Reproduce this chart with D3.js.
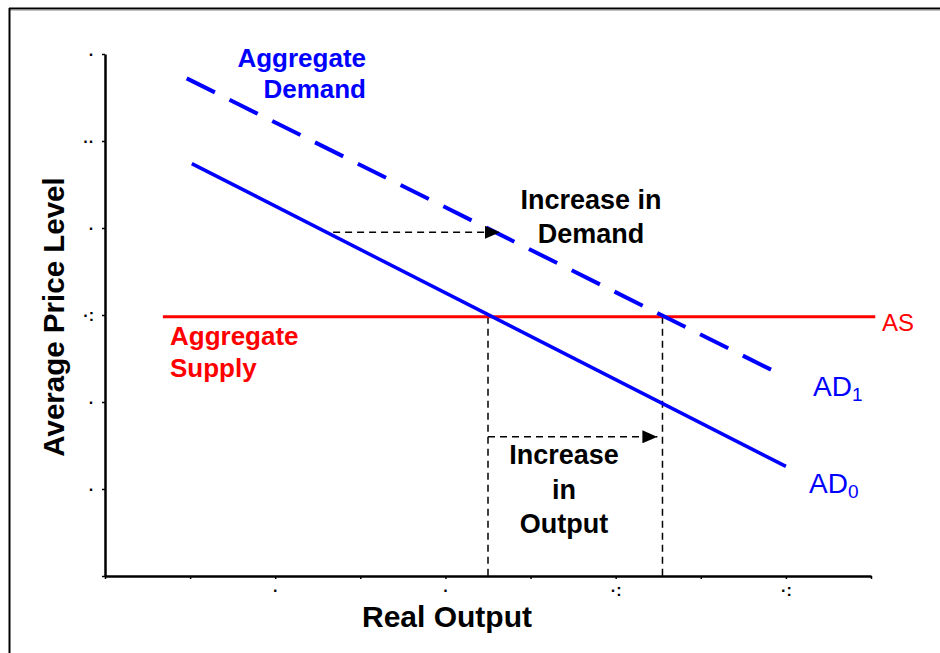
<!DOCTYPE html>
<html>
<head>
<meta charset="utf-8">
<script src="https://cdnjs.cloudflare.com/ajax/libs/d3/7.8.5/d3.min.js"></script>
<style>
  html, body { margin: 0; padding: 0; background: #fff; }
  svg { display: block; }
  text { font-family: "Liberation Sans", Arial, sans-serif; }
</style>
</head>
<body>
<script>
// ---- data ----
const xTickValues = [0, 1, 2, 3, 4, 5, 6, 7, 8, 9];
const xTickLabels = ["", "", "·", "", "·", "", "·:", "", "·:", ""];
const yTickValues = [0, 1, 2, 3, 4, 5, 6];
const yTickLabels = ["", "·", "·", "·:", "·", "··", "·"];

const ad0Points = [[1.02, 4.74], [8.0, 1.26]];
const ad1Points = [[0.96, 5.72], [7.87, 2.35]];
const asLevel = 2.98;
const asRange = [0.68, 9.05];
const equilibriumOutputs = [4.5, 6.55];
const demandShiftArrow = { y: 3.95, from: 2.68, to: 4.64 };
const outputArrow = { y: 1.6, from: 4.5, to: 6.49 };

const xAxisTitle = "Real Output";
const yAxisTitle = "Average Price Level";

// ---- chart ----
const W = 940, H = 653;
const svg = d3.select("body").append("svg").attr("width", W).attr("height", H);
svg.append("rect").attr("width", W).attr("height", H).attr("fill", "#fff");

// frame (top + left edges)
svg.append("line").attr("x1", 9).attr("x2", W).attr("y1", 8.5).attr("y2", 8.5)
  .attr("stroke", "#000").attr("stroke-width", 2);
svg.append("line").attr("x1", 9).attr("x2", W).attr("y1", 10).attr("y2", 10)
  .attr("stroke", "#888").attr("stroke-width", 1);
svg.append("line").attr("x1", 9.5).attr("x2", 9.5).attr("y1", 8).attr("y2", H)
  .attr("stroke", "#000").attr("stroke-width", 2);

const x = d3.scaleLinear().domain([0, 9]).range([105, 871]);
const y = d3.scaleLinear().domain([0, 6]).range([576, 54]);

const defs = svg.append("defs");
defs.append("marker").attr("id", "arrow").attr("viewBox", "0 0 15 13")
  .attr("refX", 15).attr("refY", 6.5).attr("markerWidth", 15).attr("markerHeight", 13)
  .attr("markerUnits", "userSpaceOnUse").attr("orient", "auto")
  .append("path").attr("d", "M0,0 L15,6.5 L0,13 Z").attr("fill", "#000");

// axes
const xAxis = d3.axisBottom(x).tickValues(xTickValues)
  .tickFormat((d, i) => xTickLabels[i]).tickSizeInner(3).tickSizeOuter(0).tickPadding(6);
const yAxis = d3.axisLeft(y).tickValues(yTickValues)
  .tickFormat((d, i) => yTickLabels[i]).tickSizeInner(3).tickSizeOuter(0).tickPadding(8);

const gx = svg.append("g").attr("transform", `translate(0,${y(0)})`).call(xAxis);
const gy = svg.append("g").attr("transform", `translate(${x(0)},0)`).call(yAxis);
[gx, gy].forEach(g => {
  g.select(".domain").attr("stroke", "#000").attr("stroke-width", 2.5);
  g.selectAll(".tick line").attr("stroke", "#000").attr("stroke-width", 1.5);
  g.selectAll(".tick text").attr("fill", "#000").attr("font-size", 16)
    .attr("font-weight", "bold").attr("font-family", "Liberation Sans, Arial, sans-serif");
});

// dashed guides
const dash = "7,5";
equilibriumOutputs.forEach(v => {
  svg.append("line").attr("x1", x(v)).attr("x2", x(v)).attr("y1", y(asLevel)).attr("y2", y(0))
    .attr("stroke", "#000").attr("stroke-width", 1.5).attr("stroke-dasharray", dash);
});

// AS line
svg.append("line").attr("x1", x(asRange[0])).attr("x2", x(asRange[1]))
  .attr("y1", y(asLevel)).attr("y2", y(asLevel))
  .attr("stroke", "#ff0000").attr("stroke-width", 3);

const line = d3.line().x(d => x(d[0])).y(d => y(d[1]));
svg.append("path").datum(ad0Points).attr("d", line).attr("fill", "none")
  .attr("stroke", "#0000ff").attr("stroke-width", 3.5);
svg.append("path").datum(ad1Points).attr("d", line).attr("fill", "none")
  .attr("stroke", "#0000ff").attr("stroke-width", 4).attr("stroke-dasharray", "31.5,16.3");

// arrows
[demandShiftArrow, outputArrow].forEach(a => {
  svg.append("line").attr("x1", x(a.from)).attr("x2", x(a.to)).attr("y1", y(a.y)).attr("y2", y(a.y))
    .attr("stroke", "#000").attr("stroke-width", 1.5).attr("stroke-dasharray", dash)
    .attr("marker-end", "url(#arrow)");
});

// text helpers
function multi(lines, xPos, baselines, anchor, color, size, weight) {
  const t = svg.append("text").attr("text-anchor", anchor).attr("fill", color)
    .attr("font-size", size).attr("font-weight", weight);
  lines.forEach((s, i) => t.append("tspan").attr("x", xPos).attr("y", baselines[i]).text(s));
}

multi(["Aggregate", "Demand"], 366, [67, 98], "end", "#0000ff", 26, "bold");
multi(["Increase in", "Demand"], 591, [209, 243], "middle", "#000", 27, "bold");
multi(["Aggregate", "Supply"], 170, [345, 377], "start", "#ff0000", 26, "bold");
multi(["Increase", "in", "Output"], 564, [464, 499, 533], "middle", "#000", 27, "bold");

function adLabel(main, sub, xPos, base) {
  const t = svg.append("text").attr("x", xPos).attr("y", base).attr("fill", "#0000ff")
    .attr("font-size", 28);
  t.append("tspan").text(main);
  t.append("tspan").attr("font-size", 19).attr("dy", 5).text(sub);
}
adLabel("AD", "1", 813, 396);
adLabel("AD", "0", 809, 493);

svg.append("text").attr("x", 882).attr("y", 331).attr("fill", "#ff0000")
  .attr("font-size", 24).text("AS");

svg.append("text").attr("x", 447).attr("y", 627).attr("text-anchor", "middle")
  .attr("font-size", 30).attr("font-weight", "bold").attr("fill", "#000").text(xAxisTitle);
svg.append("text").attr("transform", "translate(64,317) rotate(-90)").attr("text-anchor", "middle")
  .attr("font-size", 29.5).attr("font-weight", "bold").attr("fill", "#000").text(yAxisTitle);
</script>
</body>
</html>
